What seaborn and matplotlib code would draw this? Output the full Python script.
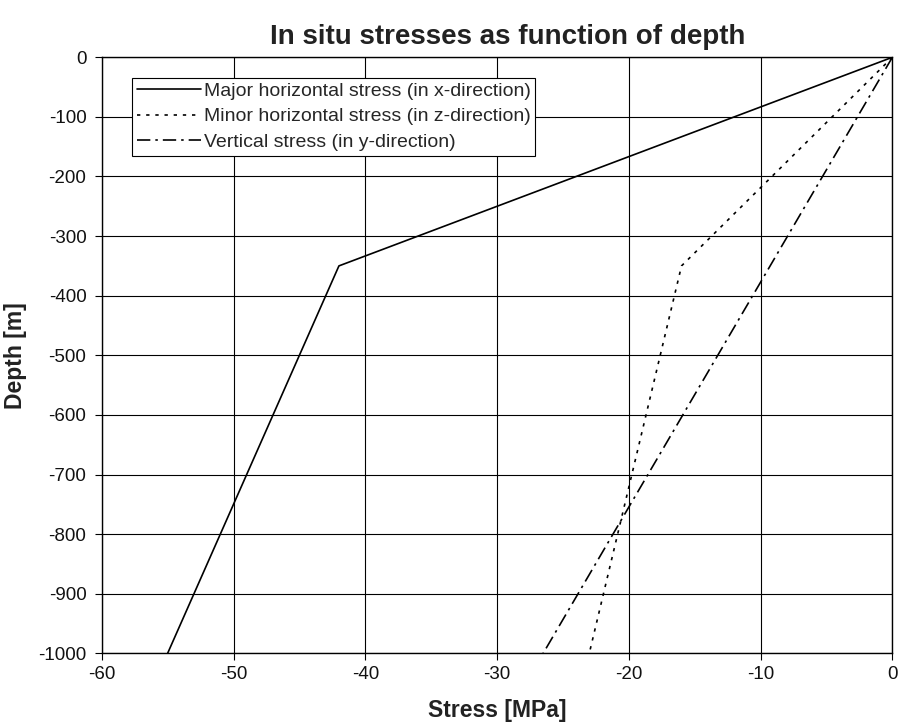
import matplotlib
matplotlib.use("Agg")
import matplotlib.pyplot as plt
import seaborn as sns
import pandas as pd

sns.set_theme(style="white")
plt.rcParams['font.family'] = ['Liberation Sans', 'DejaVu Sans']
plt.rcParams['axes.unicode_minus'] = False

depth_major = [0, -350, -1000]
stress_major = [0, -42, -55]
depth_minor = [0, -350, -1000]
stress_minor = [0, -16, -23]
depth_vert = [0, -1000]
stress_vert = [0, -26.5]

labels = ["Major horizontal stress (in x-direction)",
          "Minor horizontal stress (in z-direction)",
          "Vertical stress (in y-direction)"]

fig = plt.figure(figsize=(8.98, 7.28), dpi=100)
ax = fig.add_axes([0.1133, 0.1026, 0.8804, 0.8187])

linestyles = ["-", (0, (2, 3.5)), (0, (8, 3, 1.5, 3))]
series = [(stress_major, depth_major), (stress_minor, depth_minor), (stress_vert, depth_vert)]
for (xs, ys), lab, ls in zip(series, labels, linestyles):
    df = pd.DataFrame({"x": xs, "y": ys})
    sns.lineplot(data=df, x="x", y="y", ax=ax, estimator=None, sort=False,
                 color="black", lw=1.2, label=lab, linestyle=ls)

ax.set_xlim(-60, 0)
ax.set_ylim(-1000, 0)
ax.set_xticks(range(-60, 1, 10))
ax.set_yticks(range(-1000, 1, 100))
ax.grid(True, color="black", lw=0.8)
ax.set_axisbelow(True)
for s in ax.spines.values():
    s.set_color("black")
    s.set_linewidth(1.0)
ax.tick_params(axis="both", direction="out", length=5, width=0.8, color="black",
               labelsize=13.5, labelcolor="#111111", bottom=True, left=True)
ax.tick_params(axis="x", pad=4)
ax.tick_params(axis="y", pad=6)
ax.set_xlabel("Stress [MPa]", fontsize=16.5, fontweight="bold", color="#222222", labelpad=12)
ax.set_ylabel("Depth [m]", fontsize=16.5, fontweight="bold", color="#222222", labelpad=8)
fig.suptitle("In situ stresses as function of depth", fontsize=20, fontweight="bold",
             x=0.565, y=0.967, color="#222222")

leg = ax.legend(loc="upper left", bbox_to_anchor=(0.038, 0.966), fontsize=14,
                frameon=True, fancybox=False, framealpha=1, edgecolor="black",
                borderpad=0.25, handlelength=3.3, handletextpad=0.15, labelspacing=0.4,
                borderaxespad=0)
leg.get_frame().set_linewidth(0.8)

fig.savefig("out.png", dpi=100)
